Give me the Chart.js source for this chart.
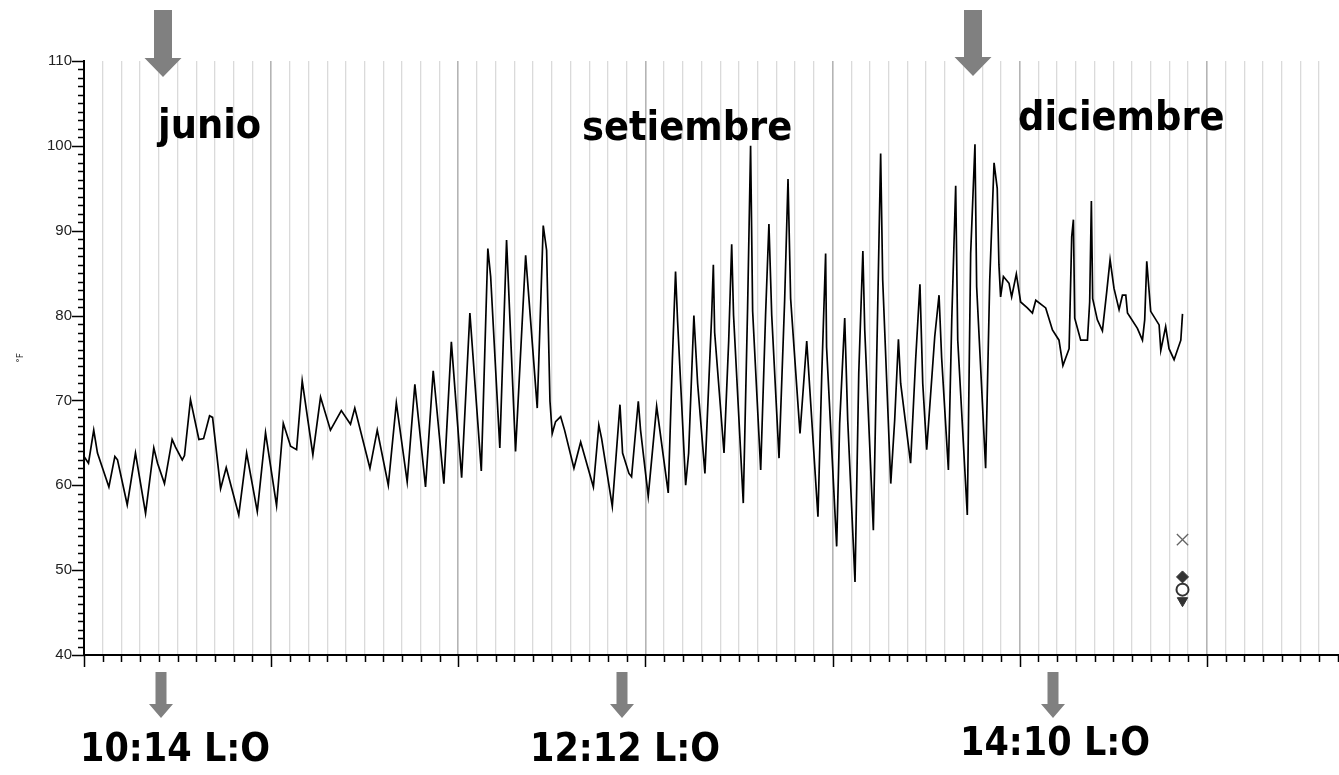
<!DOCTYPE html>
<html>
<head>
<meta charset="utf-8">
<script src="https://cdn.jsdelivr.net/npm/chart.js@4/dist/chart.umd.min.js"></script>
<style>
  html, body { margin: 0; padding: 0; background: #fff; overflow: hidden; }
  #lienzo { position: absolute; left: 0; top: 0; }
  .rotulo {
    position: absolute; white-space: nowrap; line-height: 1; color: #000;
    font-family: 'DejaVu Sans Condensed', 'DejaVu Sans', sans-serif;
    font-stretch: condensed; font-weight: bold;
  }
  .mes { font-size: 41px; }
  .luz { font-size: 39px; }
  #flechas { position: absolute; left: 0; top: 0; }
</style>
</head>
<body>
<canvas id="lienzo" width="1349" height="775"></canvas>
<svg id="flechas" width="1339" height="775"></svg>
<div id="rotulos"></div>
<script>
// dias desde el inicio del registro y temperatura (°F)
const dias = [
  0.00, 0.24, 0.52, 0.72, 1.33, 1.65, 1.79, 2.31, 2.75, 3.29, 3.73, 3.93, 4.30, 4.71, 4.89, 5.25, 5.37, 5.69, 6.14, 6.39,
  6.71, 6.87, 7.30, 7.60, 8.27, 8.69, 9.26, 9.70, 10.29, 10.65, 11.04, 11.36, 11.66, 12.23, 12.64,
  13.17, 13.75, 14.24, 14.47, 15.28, 15.67, 16.26, 16.69, 17.27, 17.68, 18.25, 18.66, 19.23, 19.63, 20.18,
  20.62, 21.23, 21.58, 21.73, 22.22, 22.58, 23.06, 23.60, 24.22, 24.54, 24.72, 24.90, 25.02, 25.20, 25.47, 25.68, 26.18, 26.54,
  27.22, 27.51, 27.66, 28.23, 28.64, 28.78, 29.12, 29.26, 29.62, 29.74, 30.15, 30.60, 31.22, 31.44, 31.61,
  31.72, 32.15, 32.31, 32.59, 32.79, 33.18, 33.54, 33.63, 33.70, 34.20, 34.45, 34.61, 34.71, 35.23, 35.46,
  35.62, 35.73, 36.16, 36.42, 36.60, 36.75, 37.14, 37.44, 37.62, 37.76, 38.26, 38.62, 39.22, 39.42, 39.63, 39.68,
  40.22, 40.38, 40.65, 40.81, 41.20, 41.40, 41.62, 41.72, 42.18, 42.41, 42.57, 42.68, 43.11, 43.32, 43.52,
  43.64, 44.17, 44.44, 44.67, 44.82, 45.03, 45.46, 45.69, 45.83, 46.19, 46.37, 46.58, 46.69, 47.20, 47.38,
  47.61, 47.70, 48.18, 48.40, 48.63, 48.80, 48.89, 48.98, 49.13, 49.43, 49.57, 49.82, 50.05, 50.41, 50.68,
  50.86, 51.39, 51.75, 52.10, 52.31, 52.64, 52.78, 52.87, 52.94, 53.26, 53.62, 53.74, 53.83, 53.90, 54.15,
  54.42, 54.65, 54.83, 55.04, 55.31, 55.49, 55.67, 55.76, 56.29, 56.56, 56.68, 56.79, 57.00, 57.45, 57.54,
  57.80, 57.98, 58.25, 58.61, 58.70
];
const temperatura = [
  63.4, 62.6, 66.5, 63.8, 59.8, 63.4, 63.0, 57.7, 63.8, 56.7, 64.4, 62.6, 60.2, 65.4, 64.5, 63.0, 63.5, 70.1, 65.4, 65.5,
  68.2, 68.0, 59.6, 62.1, 56.5, 63.8, 56.9, 66.2, 57.6, 67.3, 64.6, 64.2, 72.3, 63.6, 70.4,
  66.5, 68.8, 67.2, 69.1, 62.0, 66.5, 60.0, 69.7, 60.4, 71.9, 59.8, 73.5, 60.2, 76.9, 60.9,
  80.3, 61.7, 87.9, 84.6, 64.4, 88.9, 64.0, 87.1, 69.1, 90.6, 87.7, 69.9, 66.1, 67.5, 68.1, 66.5, 62.0, 65.1,
  59.8, 67.1, 65.5, 57.5, 69.5, 63.8, 61.4, 61.0, 69.9, 66.5, 58.7, 69.3, 59.1, 74.8, 85.2,
  79.3, 60.0, 63.8, 80.0, 72.0, 61.4, 80.0, 86.0, 78.0, 63.8, 77.0, 88.4, 80.0, 57.9, 80.9,
  100.0, 80.5, 61.8, 80.0, 90.8, 80.0, 63.2, 81.8, 96.1, 82.0, 66.1, 77.0, 56.3, 72.8, 87.3, 76.3,
  52.8, 67.3, 79.7, 67.7, 48.6, 73.2, 87.6, 78.3, 54.7, 80.7, 99.1, 84.2, 60.2, 67.7, 77.2,
  72.0, 62.6, 74.8, 83.7, 72.0, 64.2, 77.5, 82.4, 75.0, 61.8, 79.5, 95.3, 77.1, 56.5, 87.3,
  100.2, 83.4, 62.0, 84.2, 98.0, 95.0, 86.0, 82.2, 84.6, 83.8, 82.2, 84.9, 81.6, 80.9, 80.3,
  81.8, 80.9, 78.3, 77.1, 74.1, 76.1, 89.3, 91.3, 79.7, 77.1, 77.1, 81.6, 93.5, 82.0, 79.5,
  78.2, 82.8, 86.6, 83.2, 80.7, 82.4, 82.4, 80.3, 78.5, 77.1, 79.5, 86.4, 80.5, 78.9, 75.9,
  78.7, 76.1, 74.8, 77.1, 80.2
];

// marcadores al final del registro (máx, media, mín...)
const diaMarcas = 58.70;
const marcaCruz = 53.6;
const marcaRombo = 49.2;
const marcaCirculo = 47.7;
const marcaTriangulo = 46.4;

// escala Y: etiquetas cada 10 °F
const etiquetasY = ['40', '50', '60', '70', '80', '90', '100', '110'];
const diaMax = 67.1;

// rótulos de texto
const meses = ['junio', 'setiembre', 'diciembre'];
const fotoperiodos = ['10:14 L:O', '12:12 L:O', '14:10 L:O'];

// ---- rótulos y flechas (HTML / SVG) ----
const rotulos = document.getElementById('rotulos');
const posMeses = [[158, 104], [582, 106], [1018, 96]];
meses.forEach((t, i) => {
  const d = document.createElement('div');
  d.className = 'rotulo mes';
  d.textContent = t;
  d.style.left = posMeses[i][0] + 'px';
  d.style.top = posMeses[i][1] + 'px';
  rotulos.appendChild(d);
});
const posLuz = [[80, 728], [530, 728], [960, 722]];
fotoperiodos.forEach((t, i) => {
  const d = document.createElement('div');
  d.className = 'rotulo luz';
  d.textContent = t;
  d.style.left = posLuz[i][0] + 'px';
  d.style.top = posLuz[i][1] + 'px';
  rotulos.appendChild(d);
});

function flecha(cx, y0, y1, anchoCuerpo, anchoPunta, altoPunta) {
  const a = anchoCuerpo / 2, p = anchoPunta / 2, yb = y1 - altoPunta;
  return `<polygon fill="#808080" points="${cx - a},${y0} ${cx + a},${y0} ${cx + a},${yb} ${cx + p},${yb} ${cx},${y1} ${cx - p},${yb} ${cx - a},${yb}"/>`;
}
document.getElementById('flechas').innerHTML =
  flecha(163, 10, 77, 18, 37, 19) +
  flecha(973, 10, 76, 18, 37, 19) +
  flecha(161, 672, 718, 11, 24, 14) +
  flecha(622, 672, 718, 11, 24, 14) +
  flecha(1053, 672, 718, 11, 24, 14);

// ---- marcas de ejes ----
const marcasEjes = {
  id: 'marcasEjes',
  afterDraw(chart) {
    const { ctx, scales: { x, y } } = chart;
    ctx.save();
    ctx.strokeStyle = '#000';
    ctx.lineWidth = 1.5;
    ctx.beginPath();
    for (let v = 0; v <= Math.floor(diaMax); v++) {
      const px = Math.round(x.getPixelForValue(v)) + 0.5;
      ctx.moveTo(px, y.bottom);
      ctx.lineTo(px, y.bottom + (v % 10 === 0 ? 12 : 7));
    }
    for (let v = 40; v <= 110; v++) {
      const py = Math.round(y.getPixelForValue(v)) + 0.5;
      ctx.moveTo(x.left, py);
      ctx.lineTo(x.left - (v % 10 === 0 ? 12 : 6), py);
    }
    ctx.stroke();
    ctx.restore();
  }
};

const serie = dias.map((d, i) => ({ x: d, y: temperatura[i] }));

new Chart(document.getElementById('lienzo').getContext('2d'), {
  type: 'line',
  data: {
    datasets: [
      { type: 'scatter', data: [{ x: diaMarcas, y: marcaRombo }], pointStyle: 'rectRot', pointRadius: 6,
        backgroundColor: '#333', borderColor: '#333', order: 1 },
      { type: 'scatter', data: [{ x: diaMarcas, y: marcaCruz }], pointStyle: 'crossRot', pointRadius: 8,
        borderColor: '#666', borderWidth: 1.3, order: 1 },
      { type: 'scatter', data: [{ x: diaMarcas, y: marcaCirculo }], pointStyle: 'circle', pointRadius: 6,
        backgroundColor: '#fff', borderColor: '#333', borderWidth: 2, order: 2 },
      { type: 'scatter', data: [{ x: diaMarcas, y: marcaTriangulo }], pointStyle: 'triangle', pointRotation: 180,
        pointRadius: 6, backgroundColor: '#333', borderColor: '#333', order: 3 },
      { label: '°F', data: serie, borderColor: '#000', borderWidth: 1.7, pointRadius: 0,
        tension: 0, fill: false, order: 4 }
    ]
  },
  options: {
    responsive: false,
    animation: false,
    devicePixelRatio: 1,
    layout: { padding: { top: 61, right: 0, bottom: 0, left: 0 } },
    plugins: { legend: { display: false }, tooltip: { enabled: false } },
    scales: {
      x: {
        type: 'linear',
        min: 0,
        max: diaMax,
        afterFit: s => { s.height = 120; },
        ticks: { stepSize: 1, display: false, autoSkip: false },
        grid: {
          drawTicks: false,
          color: c => (c.tick && c.tick.value % 10 === 0) ? '#b4b4b4' : '#dadada',
          lineWidth: c => (c.tick && c.tick.value % 10 === 0) ? 1.6 : 1.3
        },
        border: { color: '#000', width: 2 }
      },
      y: {
        min: 40,
        max: 110,
        afterFit: s => { s.width = 84; },
        ticks: {
          stepSize: 1,
          autoSkip: false,
          padding: 4,
          color: '#222',
          font: { family: "'Liberation Sans Narrow', 'Liberation Sans', sans-serif", size: 15 },
          callback: v => (v % 10 === 0 ? etiquetasY[(v - 40) / 10] : '')
        },
        grid: { display: false },
        border: { color: '#000', width: 2 },
        title: {
          display: true,
          text: '°F',
          color: '#222',
          font: { family: "'DejaVu Sans', sans-serif", size: 9 },
          padding: { top: 15, bottom: 0 }
        }
      }
    }
  },
  plugins: [marcasEjes]
});
</script>
</body>
</html>
